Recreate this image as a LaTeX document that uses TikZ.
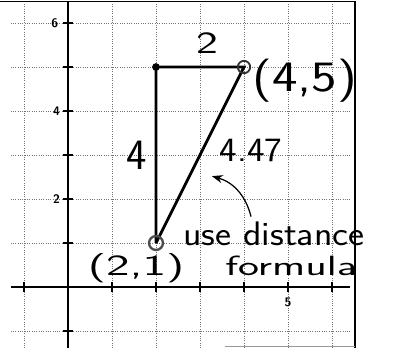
\documentclass[tikz,border=0pt]{standalone}
\usepackage{tikz}
\usetikzlibrary{arrows.meta, calc, positioning}

\tikzset{
    gridline/.style={black!55, densely dotted, line width=0.5pt},
    axisline/.style={black, line width=1.1pt},
    side/.style={black, line width=1.8pt},
    hand/.style={font=\sffamily\fontsize{20}{22}\selectfont, inner sep=0pt},
    ticklabel/.style={font=\sffamily\bfseries\footnotesize, inner sep=0pt},
}
\newcommand{\wide}[2]{\scalebox{#1}[1]{#2}}

\begin{document}
\begin{tikzpicture}
    \useasboundingbox (-1.545,-1.386) rectangle (7.75,6.523);

    % 网格
    \foreach \x in {-1,...,6} {
        \draw[gridline] (\x,-1.386) -- (\x,6.45);
    }
    \foreach \y in {-1,...,6} {
        \draw[gridline] (-1.3,\y) -- (6.4,\y);
    }

    % 坐标轴
    \draw[axisline] (-1.3,0) -- (6.4,0);
    \draw[axisline] (0,-1.386) -- (0,6.5);
    \foreach \k in {-1,...,6} {
        \draw[black, thick] (-0.12,\k) -- (0.12,\k);
        \draw[black, thick] (\k,-0.12) -- (\k,0.12);
    }
    \node[ticklabel] (t6) at (-0.3,6) {6};
    \node[ticklabel] (t4) at (-0.26,4) {4};
    \node[ticklabel] (t2) at (-0.26,2) {2};
    \node[ticklabel] (t5) at (5,-0.34) {5};

    % 纸边
    \draw[black, line width=1.2pt] (-1.545,6.49) -- (6.52,6.49) -- (6.52,-1.386);
    \draw[black!40, line width=0.8pt] (3.57,-1.35) -- (6.52,-1.35);

    % 三角形
    \coordinate (A) at (2,1);
    \coordinate (B) at (4,5);
    \coordinate (C) at (2,5);
    \draw[side] (A) -- (C) -- (B) -- (A);
    \fill[black] (C) circle (2.5pt);
    \draw[black!80, line width=1.2pt] (B) circle (4pt);
    \draw[black!70, line width=1.5pt] (A) circle (4.5pt);

    % 标注
    \node[hand] (top) at (3.16,5.55) {\wide{1.5}{2}};
    \node[hand, font=\sffamily\fontsize{28}{30}\selectfont] (left) at (1.55,3.0) {4};
    \node[hand, font=\sffamily\fontsize{22}{24}\selectfont] (diag) at (4.16,3.11) {\wide{1.1}{4.47}};
    \node[hand, font=\sffamily\fontsize{28}{30}\selectfont] (pB) at (5.38,4.68) {\wide{1.25}{(4,5)}};
    \node[hand, font=\sffamily\fontsize{19}{21}\selectfont] (pA) at (1.55,0.43) {\wide{1.7}{(2,1)}};
    \node[hand, font=\sffamily\fontsize{22}{24}\selectfont] (use) at (4.68,1.2) {\wide{1.12}{use distance}};
    \node[hand, font=\sffamily\fontsize{18}{20}\selectfont] (formula) at (5.07,0.48) {\wide{1.6}{formula}};

    % 箭头
    \coordinate (tail) at (4.16,1.6);
    \coordinate (tip) at (3.27,2.52);
    \draw[black, thick, -{Stealth[length=7pt]}] (tail) to[bend right=30] (tip);
\end{tikzpicture}
\end{document}
